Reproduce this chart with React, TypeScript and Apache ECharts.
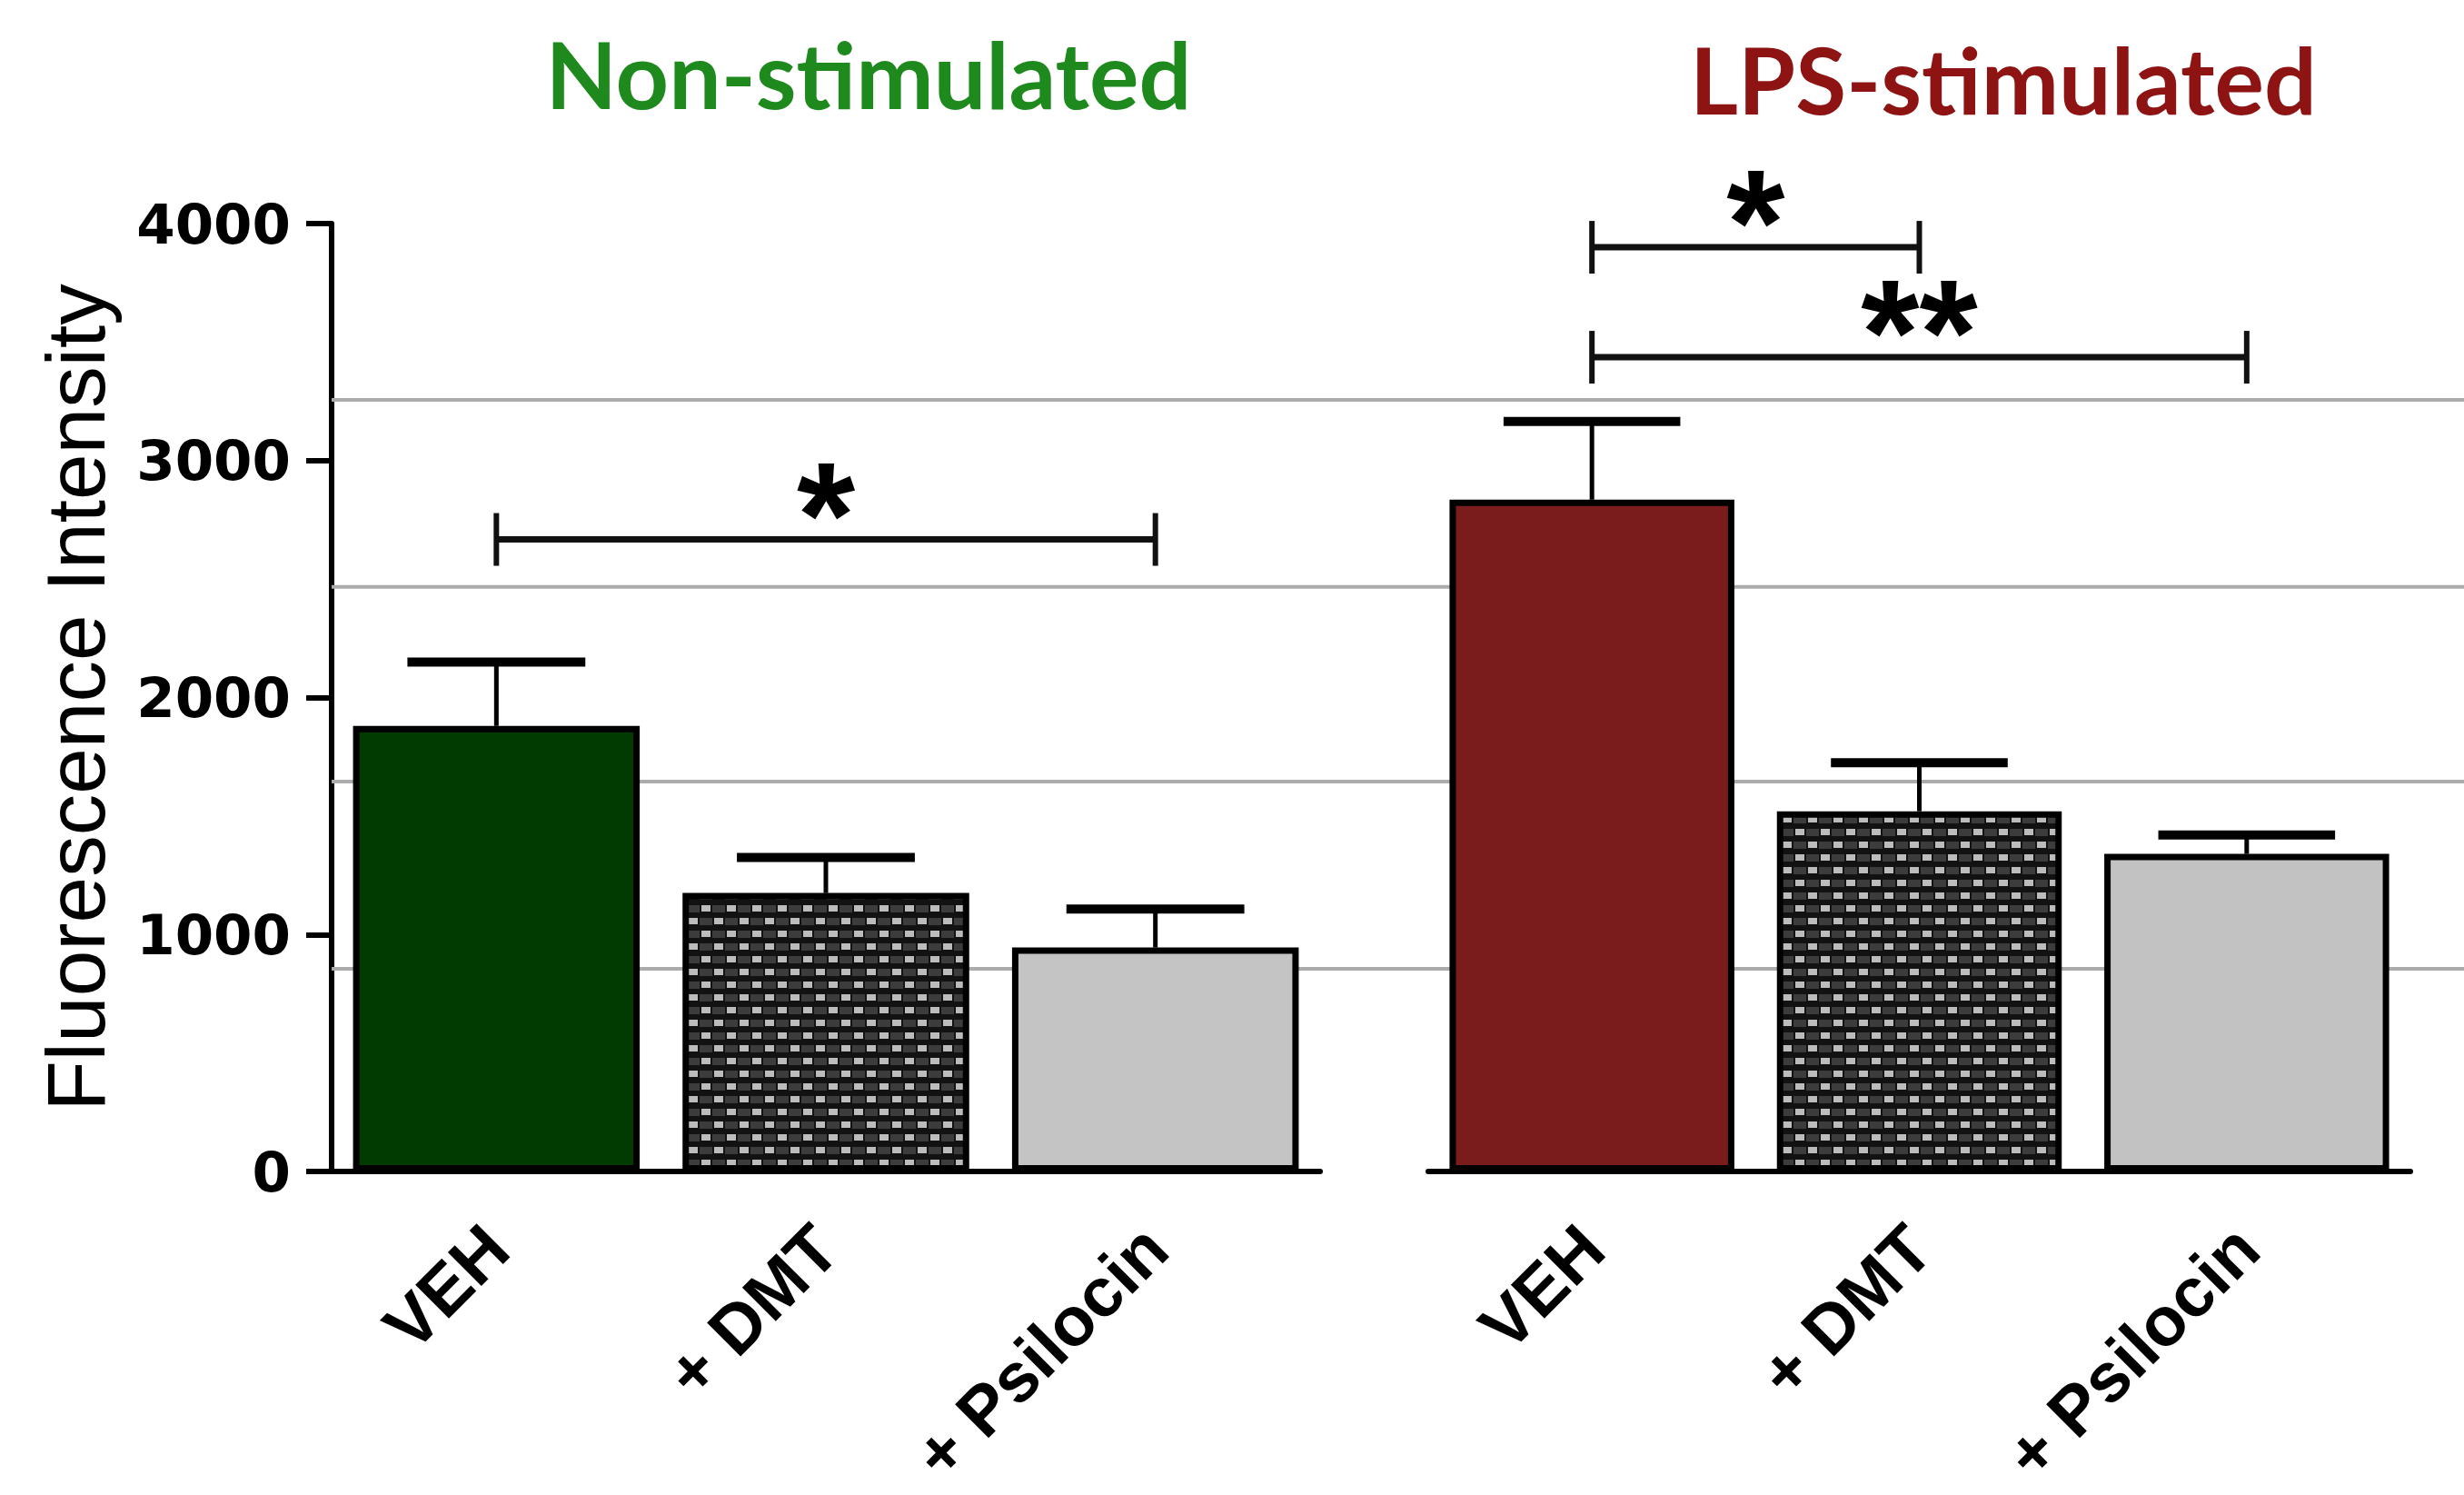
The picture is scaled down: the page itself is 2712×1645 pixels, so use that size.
import React, { useEffect, useRef } from "react";
import * as echarts from "echarts";

const categories = ["VEH", "+ DMT", "+ Psilocin"];
const nonStimMean = [1880, 1175, 945];
const nonStimSem = [270, 150, 162];
const lpsMean = [2835, 1520, 1340];
const lpsSem = [330, 205, 80];
const yTicks = { min: 0, max: 4000, interval: 1000 };
// significance brackets: [fromIndex, toIndex, yValue]
const nonStimBrackets = [[0, 2, 2667]];
const nonStimBracketLabels = ["*"];
const lpsBrackets = [
  [0, 1, 3900],
  [0, 2, 3436],
];
const lpsBracketLabels = ["*", "**"];
// light grey horizontal rules visible behind the panels
const ruleValues = [855, 1645, 2467, 3256];

const titles = ["Non-stimulated", "LPS-stimulated"];

function makeCheck(): HTMLCanvasElement {
  const c = document.createElement("canvas");
  c.width = 28;
  c.height = 28;
  const g = c.getContext("2d")!;
  g.fillStyle = "#121212";
  g.fillRect(0, 0, 28, 28);
  g.fillStyle = "#3c3c3c";
  g.fillRect(14, 2, 14, 8);
  g.fillRect(0, 16, 14, 8);
  g.fillStyle = "#bcbcbc";
  g.fillRect(2, 2, 10, 7);
  g.fillRect(16, 16, 10, 7);
  return c;
}

export default function App() {
  const ref = useRef<HTMLDivElement>(null);
  useEffect(() => {
    if (!ref.current) return;
    const chart = echarts.init(ref.current, null, { renderer: "svg" });
    const check = { image: makeCheck(), repeat: "repeat" } as any;
    const fillsNon = ["#013b01", check, "#c4c4c4"];
    const fillsLps = ["#7b1c1c", check, "#c2c2c2"];

    const errorSeries = (grid: number, mean: number[], sem: number[]) => ({
      type: "custom",
      xAxisIndex: grid,
      yAxisIndex: grid,
      z: 5,
      data: mean.map((m, i) => [i, m, m + sem[i]]),
      encode: { x: 0, y: 2 },
      renderItem: (_p: any, api: any) => {
        const i = api.value(0);
        const base = api.coord([i, api.value(1)]);
        const top = api.coord([i, api.value(2)]);
        const w = api.size([1, 0])[0] * 0.27;
        return {
          type: "group",
          children: [
            {
              type: "line",
              shape: { x1: base[0], y1: base[1], x2: top[0], y2: top[1] },
              style: { stroke: "#000", lineWidth: 5 },
            },
            {
              type: "line",
              shape: { x1: top[0] - w, y1: top[1], x2: top[0] + w, y2: top[1] },
              style: { stroke: "#000", lineWidth: 10 },
            },
          ],
        };
      },
    });

    const bracketSeries = (grid: number, data: number[][], labels: string[]) => ({
      type: "custom",
      xAxisIndex: grid,
      yAxisIndex: grid,
      z: 6,
      data,
      encode: { x: [0, 1], y: 2 },
      renderItem: (p: any, api: any) => {
        const a = api.coord([api.value(0), api.value(2)]);
        const b = api.coord([api.value(1), api.value(2)]);
        const h = 29;
        return {
          type: "group",
          children: [
            {
              type: "line",
              shape: { x1: a[0], y1: a[1], x2: b[0], y2: b[1] },
              style: { stroke: "#111", lineWidth: 7 },
            },
            {
              type: "line",
              shape: { x1: a[0], y1: a[1] - h, x2: a[0], y2: a[1] + h },
              style: { stroke: "#111", lineWidth: 6 },
            },
            {
              type: "line",
              shape: { x1: b[0], y1: b[1] - h, x2: b[0], y2: b[1] + h },
              style: { stroke: "#111", lineWidth: 6 },
            },
            {
              type: "text",
              x: (a[0] + b[0]) / 2,
              y: a[1] - 27,
              style: {
                text: labels[p.dataIndex],
                fontFamily: "Liberation Sans",
                fontWeight: "bold",
                fontSize: 165,
                fill: "#000",
                align: "center",
                verticalAlign: "middle",
              },
            },
          ],
        };
      },
    });

    const barSeries = (grid: number, mean: number[], fills: any[]) => ({
      type: "bar",
      xAxisIndex: grid,
      yAxisIndex: grid,
      barWidth: "87%",
      z: 3,
      data: mean.map((v, i) => ({
        value: v,
        itemStyle: { color: fills[i], borderColor: "#000", borderWidth: 7 },
      })),
    });

    const catAxis = (grid: number) => ({
      type: "category",
      gridIndex: grid,
      data: categories,
      axisLine: { lineStyle: { color: "#000", width: 6 } },
      axisTick: { alignWithLabel: true, length: 35, lineStyle: { color: "#000", width: 5 } },
      axisLabel: {
        interval: 0,
        rotate: 45,
        margin: 72,
        fontFamily: "Liberation Sans",
        fontWeight: "bold",
        fontSize: 76,
        color: "#000",
      },
    });

    const valAxis = (grid: number, show: boolean) => ({
      type: "value",
      gridIndex: grid,
      min: yTicks.min,
      max: yTicks.max,
      interval: yTicks.interval,
      show,
      name: show ? "Fluorescence Intensity" : "",
      nameLocation: "middle",
      nameGap: 236,
      nameTextStyle: { fontFamily: "Liberation Sans", fontSize: 91, color: "#000" },
      splitLine: { show: false },
      axisLine: { show: true, lineStyle: { color: "#000", width: 6 } },
      axisTick: { show: true, length: 28, lineStyle: { color: "#000", width: 6 } },
      axisLabel: {
        margin: 45,
        fontFamily: "DejaVu Sans",
        fontWeight: "bold",
        fontSize: 61,
        color: "#000",
        formatter: (v: number) => String(v),
      },
    });

    chart.setOption({
      animation: false,
      backgroundColor: "#fff",
      grid: [
        { left: 365, top: 246, width: 1088, height: 1043, outerBoundsMode: "none", containLabel: false },
        { left: 1572, top: 246, width: 1081, height: 1043, outerBoundsMode: "none", containLabel: false },
        { left: 365, top: 246, right: 0, height: 1043, outerBoundsMode: "none", containLabel: false },
      ],
      xAxis: [
        catAxis(0),
        catAxis(1),
        { type: "value", gridIndex: 2, min: 0, max: 1, show: false },
      ],
      yAxis: [
        valAxis(0, true),
        valAxis(1, false),
        { type: "value", gridIndex: 2, min: yTicks.min, max: yTicks.max, show: false },
      ],
      graphic: [
        {
          type: "text",
          x: 956,
          y: 80,
          style: {
            text: titles[0],
            fontFamily: "Lato",
            fontWeight: "bold",
            fontSize: 102,
            fill: "#1e8a1e",
            align: "center",
            verticalAlign: "middle",
          },
        },
        {
          type: "text",
          x: 2205,
          y: 86,
          style: {
            text: titles[1],
            fontFamily: "Lato",
            fontWeight: "bold",
            fontSize: 102,
            fill: "#8e1313",
            align: "center",
            verticalAlign: "middle",
          },
        },
      ],
      series: [
        {
          type: "custom",
          xAxisIndex: 2,
          yAxisIndex: 2,
          z: 1,
          silent: true,
          data: ruleValues.map((v) => [0, v]),
          renderItem: (_p: any, api: any) => {
            const a = api.coord([0, api.value(1)]);
            const b = api.coord([1, api.value(1)]);
            return {
              type: "line",
              shape: { x1: a[0], y1: a[1], x2: b[0], y2: b[1] },
              style: { stroke: "#ababab", lineWidth: 4 },
            };
          },
        },
        barSeries(0, nonStimMean, fillsNon),
        barSeries(1, lpsMean, fillsLps),
        errorSeries(0, nonStimMean, nonStimSem),
        errorSeries(1, lpsMean, lpsSem),
        bracketSeries(0, nonStimBrackets, nonStimBracketLabels),
        bracketSeries(1, lpsBrackets, lpsBracketLabels),
      ],
    });
    return () => chart.dispose();
  }, []);
  return (
    <div
      ref={ref}
      style={{ position: "fixed", left: 0, top: 0, width: 2712, height: 1645, background: "#fff" }}
    />
  );
}
